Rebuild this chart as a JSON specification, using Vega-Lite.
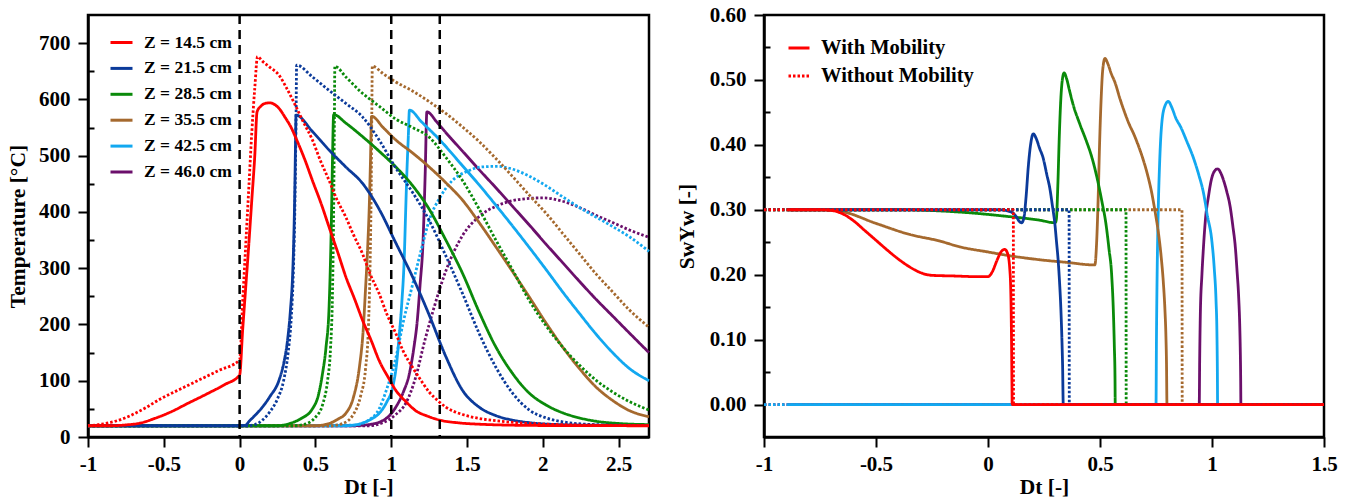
{
  "$schema": "https://vega.github.io/schema/vega-lite/v6.json",
  "background": "white",
  "padding": {"left": 6, "top": 2, "right": 5, "bottom": 5},
  "bounds": "flush",
  "spacing": 115,
  "config": {
    "font": "Liberation Serif",
    "view": {"stroke": "black", "strokeWidth": 2.5},
    "axis": {"domainColor": "black", "domainWidth": 2.5, "tickColor": "black", "tickWidth": 2, "labelFont": "Liberation Serif", "labelFontWeight": "bold", "labelFontSize": 21, "labelColor": "black", "titleFont": "Liberation Serif", "titleFontWeight": "bold", "titleFontSize": 21.5, "titleColor": "black", "grid": false}
  },
  "datasets": {
    "vlines": [{"Dt": 0}, {"Dt": 1}, {"Dt": 1.32}],
    "temp": [
      {"Z":"46.0","mob":"Without","Dt":-1,"val":20},{"Z":"46.0","mob":"Without","Dt":0.85,"val":20},{"Z":"46.0","mob":"Without","Dt":0.95,"val":26},{"Z":"46.0","mob":"Without","Dt":1.03,"val":40},{"Z":"46.0","mob":"Without","Dt":1.1,"val":62},{"Z":"46.0","mob":"Without","Dt":1.16,"val":105},{"Z":"46.0","mob":"Without","Dt":1.22,"val":170},{"Z":"46.0","mob":"Without","Dt":1.28,"val":228},{"Z":"46.0","mob":"Without","Dt":1.36,"val":295},{"Z":"46.0","mob":"Without","Dt":1.47,"val":358},{"Z":"46.0","mob":"Without","Dt":1.58,"val":392},{"Z":"46.0","mob":"Without","Dt":1.69,"val":410},{"Z":"46.0","mob":"Without","Dt":1.8,"val":420},{"Z":"46.0","mob":"Without","Dt":1.91,"val":424},{"Z":"46.0","mob":"Without","Dt":2.0,"val":425},{"Z":"46.0","mob":"Without","Dt":2.13,"val":419},{"Z":"46.0","mob":"Without","Dt":2.24,"val":408},{"Z":"46.0","mob":"Without","Dt":2.35,"val":394},{"Z":"46.0","mob":"Without","Dt":2.47,"val":380},{"Z":"46.0","mob":"Without","Dt":2.57,"val":368},{"Z":"46.0","mob":"Without","Dt":2.7,"val":355},
      {"Z":"46.0","mob":"With","Dt":-1,"val":20},{"Z":"46.0","mob":"With","Dt":0.75,"val":20},{"Z":"46.0","mob":"With","Dt":0.85,"val":22},{"Z":"46.0","mob":"With","Dt":0.95,"val":30},{"Z":"46.0","mob":"With","Dt":1.03,"val":53},{"Z":"46.0","mob":"With","Dt":1.08,"val":80},{"Z":"46.0","mob":"With","Dt":1.12,"val":113},{"Z":"46.0","mob":"With","Dt":1.15,"val":160},{"Z":"46.0","mob":"With","Dt":1.17,"val":202},{"Z":"46.0","mob":"With","Dt":1.19,"val":270},{"Z":"46.0","mob":"With","Dt":1.21,"val":350},{"Z":"46.0","mob":"With","Dt":1.224,"val":469},{"Z":"46.0","mob":"With","Dt":1.235,"val":578},{"Z":"46.0","mob":"With","Dt":1.3,"val":560},{"Z":"46.0","mob":"With","Dt":1.36,"val":541},{"Z":"46.0","mob":"With","Dt":1.47,"val":508},{"Z":"46.0","mob":"With","Dt":1.58,"val":475},{"Z":"46.0","mob":"With","Dt":1.69,"val":443},{"Z":"46.0","mob":"With","Dt":1.8,"val":410},{"Z":"46.0","mob":"With","Dt":1.91,"val":377},{"Z":"46.0","mob":"With","Dt":2.02,"val":343},{"Z":"46.0","mob":"With","Dt":2.13,"val":310},{"Z":"46.0","mob":"With","Dt":2.24,"val":277},{"Z":"46.0","mob":"With","Dt":2.35,"val":245},{"Z":"46.0","mob":"With","Dt":2.46,"val":215},{"Z":"46.0","mob":"With","Dt":2.57,"val":185},{"Z":"46.0","mob":"With","Dt":2.7,"val":150},
      {"Z":"42.5","mob":"Without","Dt":-1,"val":20},{"Z":"42.5","mob":"Without","Dt":0.75,"val":21},{"Z":"42.5","mob":"Without","Dt":0.85,"val":30},{"Z":"42.5","mob":"Without","Dt":0.92,"val":50},{"Z":"42.5","mob":"Without","Dt":0.97,"val":85},{"Z":"42.5","mob":"Without","Dt":1.03,"val":140},{"Z":"42.5","mob":"Without","Dt":1.08,"val":205},{"Z":"42.5","mob":"Without","Dt":1.14,"val":270},{"Z":"42.5","mob":"Without","Dt":1.2,"val":335},{"Z":"42.5","mob":"Without","Dt":1.25,"val":385},{"Z":"42.5","mob":"Without","Dt":1.32,"val":425},{"Z":"42.5","mob":"Without","Dt":1.4,"val":455},{"Z":"42.5","mob":"Without","Dt":1.5,"val":472},{"Z":"42.5","mob":"Without","Dt":1.6,"val":480},{"Z":"42.5","mob":"Without","Dt":1.7,"val":481},{"Z":"42.5","mob":"Without","Dt":1.8,"val":476},{"Z":"42.5","mob":"Without","Dt":1.9,"val":465},{"Z":"42.5","mob":"Without","Dt":2.0,"val":450},{"Z":"42.5","mob":"Without","Dt":2.13,"val":427},{"Z":"42.5","mob":"Without","Dt":2.24,"val":408},{"Z":"42.5","mob":"Without","Dt":2.35,"val":391},{"Z":"42.5","mob":"Without","Dt":2.46,"val":374},{"Z":"42.5","mob":"Without","Dt":2.57,"val":356},{"Z":"42.5","mob":"Without","Dt":2.7,"val":330},
      {"Z":"42.5","mob":"With","Dt":-1,"val":20},{"Z":"42.5","mob":"With","Dt":0.7,"val":20},{"Z":"42.5","mob":"With","Dt":0.8,"val":24},{"Z":"42.5","mob":"With","Dt":0.87,"val":32},{"Z":"42.5","mob":"With","Dt":0.92,"val":42},{"Z":"42.5","mob":"With","Dt":0.97,"val":62},{"Z":"42.5","mob":"With","Dt":1.01,"val":89},{"Z":"42.5","mob":"With","Dt":1.035,"val":130},{"Z":"42.5","mob":"With","Dt":1.05,"val":172},{"Z":"42.5","mob":"With","Dt":1.07,"val":240},{"Z":"42.5","mob":"With","Dt":1.086,"val":320},{"Z":"42.5","mob":"With","Dt":1.095,"val":400},{"Z":"42.5","mob":"With","Dt":1.103,"val":469},{"Z":"42.5","mob":"With","Dt":1.112,"val":530},{"Z":"42.5","mob":"With","Dt":1.12,"val":581},{"Z":"42.5","mob":"With","Dt":1.2,"val":560},{"Z":"42.5","mob":"With","Dt":1.32,"val":528},{"Z":"42.5","mob":"With","Dt":1.47,"val":482},{"Z":"42.5","mob":"With","Dt":1.58,"val":448},{"Z":"42.5","mob":"With","Dt":1.69,"val":412},{"Z":"42.5","mob":"With","Dt":1.8,"val":375},{"Z":"42.5","mob":"With","Dt":1.91,"val":337},{"Z":"42.5","mob":"With","Dt":2.02,"val":298},{"Z":"42.5","mob":"With","Dt":2.13,"val":258},{"Z":"42.5","mob":"With","Dt":2.24,"val":220},{"Z":"42.5","mob":"With","Dt":2.35,"val":183},{"Z":"42.5","mob":"With","Dt":2.46,"val":150},{"Z":"42.5","mob":"With","Dt":2.57,"val":122},{"Z":"42.5","mob":"With","Dt":2.7,"val":100},
      {"Z":"35.5","mob":"Without","Dt":-1,"val":20},{"Z":"35.5","mob":"Without","Dt":0.6,"val":20},{"Z":"35.5","mob":"Without","Dt":0.68,"val":24},{"Z":"35.5","mob":"Without","Dt":0.75,"val":40},{"Z":"35.5","mob":"Without","Dt":0.8,"val":75},{"Z":"35.5","mob":"Without","Dt":0.83,"val":120},{"Z":"35.5","mob":"Without","Dt":0.85,"val":200},{"Z":"35.5","mob":"Without","Dt":0.86,"val":300},{"Z":"35.5","mob":"Without","Dt":0.868,"val":450},{"Z":"35.5","mob":"Without","Dt":0.872,"val":580},{"Z":"35.5","mob":"Without","Dt":0.875,"val":659},{"Z":"35.5","mob":"Without","Dt":0.95,"val":645},{"Z":"35.5","mob":"Without","Dt":1.03,"val":631},{"Z":"35.5","mob":"Without","Dt":1.14,"val":615},{"Z":"35.5","mob":"Without","Dt":1.25,"val":596},{"Z":"35.5","mob":"Without","Dt":1.36,"val":575},{"Z":"35.5","mob":"Without","Dt":1.47,"val":551},{"Z":"35.5","mob":"Without","Dt":1.58,"val":525},{"Z":"35.5","mob":"Without","Dt":1.69,"val":495},{"Z":"35.5","mob":"Without","Dt":1.8,"val":463},{"Z":"35.5","mob":"Without","Dt":1.91,"val":430},{"Z":"35.5","mob":"Without","Dt":2.02,"val":398},{"Z":"35.5","mob":"Without","Dt":2.13,"val":362},{"Z":"35.5","mob":"Without","Dt":2.24,"val":326},{"Z":"35.5","mob":"Without","Dt":2.35,"val":290},{"Z":"35.5","mob":"Without","Dt":2.46,"val":258},{"Z":"35.5","mob":"Without","Dt":2.57,"val":226},{"Z":"35.5","mob":"Without","Dt":2.7,"val":195},
      {"Z":"35.5","mob":"With","Dt":-1,"val":20},{"Z":"35.5","mob":"With","Dt":0.5,"val":20},{"Z":"35.5","mob":"With","Dt":0.59,"val":24},{"Z":"35.5","mob":"With","Dt":0.65,"val":32},{"Z":"35.5","mob":"With","Dt":0.7,"val":42},{"Z":"35.5","mob":"With","Dt":0.75,"val":70},{"Z":"35.5","mob":"With","Dt":0.79,"val":124},{"Z":"35.5","mob":"With","Dt":0.815,"val":190},{"Z":"35.5","mob":"With","Dt":0.83,"val":261},{"Z":"35.5","mob":"With","Dt":0.845,"val":340},{"Z":"35.5","mob":"With","Dt":0.855,"val":409},{"Z":"35.5","mob":"With","Dt":0.863,"val":490},{"Z":"35.5","mob":"With","Dt":0.87,"val":570},{"Z":"35.5","mob":"With","Dt":0.95,"val":549},{"Z":"35.5","mob":"With","Dt":1.03,"val":528},{"Z":"35.5","mob":"With","Dt":1.14,"val":505},{"Z":"35.5","mob":"With","Dt":1.25,"val":480},{"Z":"35.5","mob":"With","Dt":1.36,"val":452},{"Z":"35.5","mob":"With","Dt":1.47,"val":421},{"Z":"35.5","mob":"With","Dt":1.58,"val":381},{"Z":"35.5","mob":"With","Dt":1.69,"val":338},{"Z":"35.5","mob":"With","Dt":1.8,"val":294},{"Z":"35.5","mob":"With","Dt":1.91,"val":249},{"Z":"35.5","mob":"With","Dt":2.02,"val":203},{"Z":"35.5","mob":"With","Dt":2.13,"val":160},{"Z":"35.5","mob":"With","Dt":2.24,"val":122},{"Z":"35.5","mob":"With","Dt":2.35,"val":89},{"Z":"35.5","mob":"With","Dt":2.46,"val":65},{"Z":"35.5","mob":"With","Dt":2.57,"val":47},{"Z":"35.5","mob":"With","Dt":2.7,"val":36},
      {"Z":"28.5","mob":"Without","Dt":-1,"val":20},{"Z":"28.5","mob":"Without","Dt":0.35,"val":20},{"Z":"28.5","mob":"Without","Dt":0.42,"val":22},{"Z":"28.5","mob":"Without","Dt":0.5,"val":35},{"Z":"28.5","mob":"Without","Dt":0.55,"val":60},{"Z":"28.5","mob":"Without","Dt":0.58,"val":100},{"Z":"28.5","mob":"Without","Dt":0.6,"val":160},{"Z":"28.5","mob":"Without","Dt":0.612,"val":250},{"Z":"28.5","mob":"Without","Dt":0.62,"val":400},{"Z":"28.5","mob":"Without","Dt":0.625,"val":560},{"Z":"28.5","mob":"Without","Dt":0.628,"val":659},{"Z":"28.5","mob":"Without","Dt":0.7,"val":640},{"Z":"28.5","mob":"Without","Dt":0.81,"val":611},{"Z":"28.5","mob":"Without","Dt":0.92,"val":588},{"Z":"28.5","mob":"Without","Dt":1.03,"val":565},{"Z":"28.5","mob":"Without","Dt":1.14,"val":550},{"Z":"28.5","mob":"Without","Dt":1.25,"val":533},{"Z":"28.5","mob":"Without","Dt":1.36,"val":497},{"Z":"28.5","mob":"Without","Dt":1.47,"val":456},{"Z":"28.5","mob":"Without","Dt":1.58,"val":405},{"Z":"28.5","mob":"Without","Dt":1.69,"val":350},{"Z":"28.5","mob":"Without","Dt":1.8,"val":297},{"Z":"28.5","mob":"Without","Dt":1.91,"val":243},{"Z":"28.5","mob":"Without","Dt":2.02,"val":198},{"Z":"28.5","mob":"Without","Dt":2.13,"val":160},{"Z":"28.5","mob":"Without","Dt":2.24,"val":128},{"Z":"28.5","mob":"Without","Dt":2.35,"val":101},{"Z":"28.5","mob":"Without","Dt":2.46,"val":80},{"Z":"28.5","mob":"Without","Dt":2.57,"val":63},{"Z":"28.5","mob":"Without","Dt":2.7,"val":48},
      {"Z":"28.5","mob":"With","Dt":-1,"val":20},{"Z":"28.5","mob":"With","Dt":0.25,"val":20},{"Z":"28.5","mob":"With","Dt":0.33,"val":24},{"Z":"28.5","mob":"With","Dt":0.4,"val":32},{"Z":"28.5","mob":"With","Dt":0.48,"val":50},{"Z":"28.5","mob":"With","Dt":0.52,"val":75},{"Z":"28.5","mob":"With","Dt":0.545,"val":110},{"Z":"28.5","mob":"With","Dt":0.57,"val":160},{"Z":"28.5","mob":"With","Dt":0.59,"val":231},{"Z":"28.5","mob":"With","Dt":0.6,"val":320},{"Z":"28.5","mob":"With","Dt":0.607,"val":409},{"Z":"28.5","mob":"With","Dt":0.613,"val":500},{"Z":"28.5","mob":"With","Dt":0.62,"val":573},{"Z":"28.5","mob":"With","Dt":0.7,"val":558},{"Z":"28.5","mob":"With","Dt":0.81,"val":534},{"Z":"28.5","mob":"With","Dt":0.92,"val":508},{"Z":"28.5","mob":"With","Dt":1.03,"val":480},{"Z":"28.5","mob":"With","Dt":1.14,"val":447},{"Z":"28.5","mob":"With","Dt":1.25,"val":405},{"Z":"28.5","mob":"With","Dt":1.36,"val":350},{"Z":"28.5","mob":"With","Dt":1.47,"val":291},{"Z":"28.5","mob":"With","Dt":1.58,"val":222},{"Z":"28.5","mob":"With","Dt":1.69,"val":160},{"Z":"28.5","mob":"With","Dt":1.8,"val":113},{"Z":"28.5","mob":"With","Dt":1.91,"val":78},{"Z":"28.5","mob":"With","Dt":2.02,"val":57},{"Z":"28.5","mob":"With","Dt":2.13,"val":43},{"Z":"28.5","mob":"With","Dt":2.24,"val":34},{"Z":"28.5","mob":"With","Dt":2.35,"val":28},{"Z":"28.5","mob":"With","Dt":2.5,"val":24},{"Z":"28.5","mob":"With","Dt":2.7,"val":22},
      {"Z":"21.5","mob":"Without","Dt":-1,"val":20},{"Z":"21.5","mob":"Without","Dt":0.05,"val":20},{"Z":"21.5","mob":"Without","Dt":0.1,"val":22},{"Z":"21.5","mob":"Without","Dt":0.15,"val":30},{"Z":"21.5","mob":"Without","Dt":0.2,"val":45},{"Z":"21.5","mob":"Without","Dt":0.25,"val":68},{"Z":"21.5","mob":"Without","Dt":0.29,"val":100},{"Z":"21.5","mob":"Without","Dt":0.32,"val":150},{"Z":"21.5","mob":"Without","Dt":0.34,"val":210},{"Z":"21.5","mob":"Without","Dt":0.355,"val":300},{"Z":"21.5","mob":"Without","Dt":0.365,"val":420},{"Z":"21.5","mob":"Without","Dt":0.372,"val":560},{"Z":"21.5","mob":"Without","Dt":0.376,"val":661},{"Z":"21.5","mob":"Without","Dt":0.48,"val":640},{"Z":"21.5","mob":"Without","Dt":0.59,"val":616},{"Z":"21.5","mob":"Without","Dt":0.7,"val":593},{"Z":"21.5","mob":"Without","Dt":0.81,"val":569},{"Z":"21.5","mob":"Without","Dt":0.92,"val":528},{"Z":"21.5","mob":"Without","Dt":1.03,"val":478},{"Z":"21.5","mob":"Without","Dt":1.14,"val":435},{"Z":"21.5","mob":"Without","Dt":1.25,"val":385},{"Z":"21.5","mob":"Without","Dt":1.36,"val":322},{"Z":"21.5","mob":"Without","Dt":1.47,"val":255},{"Z":"21.5","mob":"Without","Dt":1.58,"val":184},{"Z":"21.5","mob":"Without","Dt":1.69,"val":124},{"Z":"21.5","mob":"Without","Dt":1.8,"val":78},{"Z":"21.5","mob":"Without","Dt":1.91,"val":48},{"Z":"21.5","mob":"Without","Dt":2.02,"val":34},{"Z":"21.5","mob":"Without","Dt":2.13,"val":27},{"Z":"21.5","mob":"Without","Dt":2.35,"val":22},{"Z":"21.5","mob":"Without","Dt":2.7,"val":20.3},
      {"Z":"21.5","mob":"With","Dt":-1,"val":20},{"Z":"21.5","mob":"With","Dt":0,"val":20},{"Z":"21.5","mob":"With","Dt":0.04,"val":21},{"Z":"21.5","mob":"With","Dt":0.063,"val":28},{"Z":"21.5","mob":"With","Dt":0.1,"val":38},{"Z":"21.5","mob":"With","Dt":0.15,"val":53},{"Z":"21.5","mob":"With","Dt":0.2,"val":72},{"Z":"21.5","mob":"With","Dt":0.26,"val":101},{"Z":"21.5","mob":"With","Dt":0.29,"val":130},{"Z":"21.5","mob":"With","Dt":0.316,"val":172},{"Z":"21.5","mob":"With","Dt":0.335,"val":225},{"Z":"21.5","mob":"With","Dt":0.35,"val":291},{"Z":"21.5","mob":"With","Dt":0.358,"val":360},{"Z":"21.5","mob":"With","Dt":0.364,"val":439},{"Z":"21.5","mob":"With","Dt":0.368,"val":510},{"Z":"21.5","mob":"With","Dt":0.372,"val":572},{"Z":"21.5","mob":"With","Dt":0.48,"val":543},{"Z":"21.5","mob":"With","Dt":0.59,"val":510},{"Z":"21.5","mob":"With","Dt":0.7,"val":480},{"Z":"21.5","mob":"With","Dt":0.81,"val":451},{"Z":"21.5","mob":"With","Dt":0.92,"val":405},{"Z":"21.5","mob":"With","Dt":1.03,"val":345},{"Z":"21.5","mob":"With","Dt":1.14,"val":285},{"Z":"21.5","mob":"With","Dt":1.25,"val":217},{"Z":"21.5","mob":"With","Dt":1.36,"val":143},{"Z":"21.5","mob":"With","Dt":1.47,"val":83},{"Z":"21.5","mob":"With","Dt":1.58,"val":53},{"Z":"21.5","mob":"With","Dt":1.69,"val":38},{"Z":"21.5","mob":"With","Dt":1.8,"val":30},{"Z":"21.5","mob":"With","Dt":1.91,"val":25.5},{"Z":"21.5","mob":"With","Dt":2.02,"val":23},{"Z":"21.5","mob":"With","Dt":2.3,"val":21},{"Z":"21.5","mob":"With","Dt":2.7,"val":20.3},
      {"Z":"14.5","mob":"Without","Dt":-1,"val":20},{"Z":"14.5","mob":"Without","Dt":-0.93,"val":22},{"Z":"14.5","mob":"Without","Dt":-0.82,"val":28},{"Z":"14.5","mob":"Without","Dt":-0.72,"val":38},{"Z":"14.5","mob":"Without","Dt":-0.62,"val":52},{"Z":"14.5","mob":"Without","Dt":-0.52,"val":68},{"Z":"14.5","mob":"Without","Dt":-0.4,"val":84},{"Z":"14.5","mob":"Without","Dt":-0.27,"val":101},{"Z":"14.5","mob":"Without","Dt":-0.14,"val":118},{"Z":"14.5","mob":"Without","Dt":0,"val":137},{"Z":"14.5","mob":"Without","Dt":0.02,"val":240},{"Z":"14.5","mob":"Without","Dt":0.04,"val":340},{"Z":"14.5","mob":"Without","Dt":0.06,"val":440},{"Z":"14.5","mob":"Without","Dt":0.08,"val":540},{"Z":"14.5","mob":"Without","Dt":0.1,"val":620},{"Z":"14.5","mob":"Without","Dt":0.118,"val":676},{"Z":"14.5","mob":"Without","Dt":0.15,"val":668},{"Z":"14.5","mob":"Without","Dt":0.2,"val":657},{"Z":"14.5","mob":"Without","Dt":0.26,"val":643},{"Z":"14.5","mob":"Without","Dt":0.31,"val":620},{"Z":"14.5","mob":"Without","Dt":0.37,"val":588},{"Z":"14.5","mob":"Without","Dt":0.42,"val":560},{"Z":"14.5","mob":"Without","Dt":0.48,"val":528},{"Z":"14.5","mob":"Without","Dt":0.53,"val":493},{"Z":"14.5","mob":"Without","Dt":0.59,"val":456},{"Z":"14.5","mob":"Without","Dt":0.64,"val":423},{"Z":"14.5","mob":"Without","Dt":0.7,"val":391},{"Z":"14.5","mob":"Without","Dt":0.75,"val":360},{"Z":"14.5","mob":"Without","Dt":0.81,"val":326},{"Z":"14.5","mob":"Without","Dt":0.86,"val":290},{"Z":"14.5","mob":"Without","Dt":0.92,"val":255},{"Z":"14.5","mob":"Without","Dt":0.97,"val":219},{"Z":"14.5","mob":"Without","Dt":1.03,"val":184},{"Z":"14.5","mob":"Without","Dt":1.08,"val":152},{"Z":"14.5","mob":"Without","Dt":1.14,"val":124},{"Z":"14.5","mob":"Without","Dt":1.2,"val":99},{"Z":"14.5","mob":"Without","Dt":1.25,"val":80},{"Z":"14.5","mob":"Without","Dt":1.31,"val":64},{"Z":"14.5","mob":"Without","Dt":1.36,"val":53},{"Z":"14.5","mob":"Without","Dt":1.47,"val":40},{"Z":"14.5","mob":"Without","Dt":1.58,"val":33},{"Z":"14.5","mob":"Without","Dt":1.69,"val":29},{"Z":"14.5","mob":"Without","Dt":1.85,"val":25},{"Z":"14.5","mob":"Without","Dt":2.0,"val":23},{"Z":"14.5","mob":"Without","Dt":2.3,"val":21},{"Z":"14.5","mob":"Without","Dt":2.7,"val":20.3},
      {"Z":"14.5","mob":"With","Dt":-1,"val":20},{"Z":"14.5","mob":"With","Dt":-0.85,"val":20},{"Z":"14.5","mob":"With","Dt":-0.75,"val":21.5},{"Z":"14.5","mob":"With","Dt":-0.65,"val":25},{"Z":"14.5","mob":"With","Dt":-0.56,"val":33},{"Z":"14.5","mob":"With","Dt":-0.45,"val":45},{"Z":"14.5","mob":"With","Dt":-0.34,"val":60},{"Z":"14.5","mob":"With","Dt":-0.22,"val":76},{"Z":"14.5","mob":"With","Dt":-0.1,"val":93},{"Z":"14.5","mob":"With","Dt":0,"val":110},{"Z":"14.5","mob":"With","Dt":0.02,"val":190},{"Z":"14.5","mob":"With","Dt":0.04,"val":265},{"Z":"14.5","mob":"With","Dt":0.06,"val":340},{"Z":"14.5","mob":"With","Dt":0.08,"val":420},{"Z":"14.5","mob":"With","Dt":0.1,"val":500},{"Z":"14.5","mob":"With","Dt":0.115,"val":578},{"Z":"14.5","mob":"With","Dt":0.14,"val":588},{"Z":"14.5","mob":"With","Dt":0.17,"val":593},{"Z":"14.5","mob":"With","Dt":0.2,"val":594},{"Z":"14.5","mob":"With","Dt":0.23,"val":591},{"Z":"14.5","mob":"With","Dt":0.26,"val":584},{"Z":"14.5","mob":"With","Dt":0.3,"val":568},{"Z":"14.5","mob":"With","Dt":0.34,"val":550},{"Z":"14.5","mob":"With","Dt":0.37,"val":532},{"Z":"14.5","mob":"With","Dt":0.43,"val":493},{"Z":"14.5","mob":"With","Dt":0.48,"val":456},{"Z":"14.5","mob":"With","Dt":0.54,"val":413},{"Z":"14.5","mob":"With","Dt":0.59,"val":373},{"Z":"14.5","mob":"With","Dt":0.65,"val":326},{"Z":"14.5","mob":"With","Dt":0.7,"val":285},{"Z":"14.5","mob":"With","Dt":0.76,"val":244},{"Z":"14.5","mob":"With","Dt":0.81,"val":208},{"Z":"14.5","mob":"With","Dt":0.87,"val":170},{"Z":"14.5","mob":"With","Dt":0.92,"val":136},{"Z":"14.5","mob":"With","Dt":0.98,"val":106},{"Z":"14.5","mob":"With","Dt":1.03,"val":83},{"Z":"14.5","mob":"With","Dt":1.1,"val":62},{"Z":"14.5","mob":"With","Dt":1.16,"val":47},{"Z":"14.5","mob":"With","Dt":1.24,"val":37},{"Z":"14.5","mob":"With","Dt":1.32,"val":30},{"Z":"14.5","mob":"With","Dt":1.45,"val":25},{"Z":"14.5","mob":"With","Dt":1.6,"val":22.5},{"Z":"14.5","mob":"With","Dt":1.8,"val":21},{"Z":"14.5","mob":"With","Dt":2.1,"val":20.3},{"Z":"14.5","mob":"With","Dt":2.7,"val":20}
    ],
    "sw": [
      {"Z":"46.0","mob":"Without","Dt":-1,"val":0},{"Z":"46.0","mob":"Without","Dt":1.5,"val":0},
      {"Z":"46.0","mob":"With","Dt":-0.89,"val":0},{"Z":"46.0","mob":"With","Dt":0.943,"val":0},{"Z":"46.0","mob":"With","Dt":0.945,"val":0.07},{"Z":"46.0","mob":"With","Dt":0.948,"val":0.14},{"Z":"46.0","mob":"With","Dt":0.955,"val":0.2},{"Z":"46.0","mob":"With","Dt":0.962,"val":0.243},{"Z":"46.0","mob":"With","Dt":0.972,"val":0.29},{"Z":"46.0","mob":"With","Dt":0.984,"val":0.32},{"Z":"46.0","mob":"With","Dt":0.995,"val":0.343},{"Z":"46.0","mob":"With","Dt":1.007,"val":0.357},{"Z":"46.0","mob":"With","Dt":1.025,"val":0.363},{"Z":"46.0","mob":"With","Dt":1.04,"val":0.356},{"Z":"46.0","mob":"With","Dt":1.051,"val":0.346},{"Z":"46.0","mob":"With","Dt":1.066,"val":0.328},{"Z":"46.0","mob":"With","Dt":1.081,"val":0.305},{"Z":"46.0","mob":"With","Dt":1.093,"val":0.275},{"Z":"46.0","mob":"With","Dt":1.104,"val":0.243},{"Z":"46.0","mob":"With","Dt":1.112,"val":0.205},{"Z":"46.0","mob":"With","Dt":1.119,"val":0.166},{"Z":"46.0","mob":"With","Dt":1.124,"val":0.12},{"Z":"46.0","mob":"With","Dt":1.126,"val":0.089},{"Z":"46.0","mob":"With","Dt":1.128,"val":0.04},{"Z":"46.0","mob":"With","Dt":1.129,"val":0},{"Z":"46.0","mob":"With","Dt":1.5,"val":0},
      {"Z":"42.5","mob":"Without","Dt":-1,"val":0},{"Z":"42.5","mob":"Without","Dt":1.5,"val":0},
      {"Z":"42.5","mob":"With","Dt":-0.89,"val":0},{"Z":"42.5","mob":"With","Dt":0.75,"val":0},{"Z":"42.5","mob":"With","Dt":0.752,"val":0.1},{"Z":"42.5","mob":"With","Dt":0.755,"val":0.2},{"Z":"42.5","mob":"With","Dt":0.76,"val":0.3},{"Z":"42.5","mob":"With","Dt":0.766,"val":0.37},{"Z":"42.5","mob":"With","Dt":0.776,"val":0.434},{"Z":"42.5","mob":"With","Dt":0.79,"val":0.46},{"Z":"42.5","mob":"With","Dt":0.805,"val":0.467},{"Z":"42.5","mob":"With","Dt":0.82,"val":0.458},{"Z":"42.5","mob":"With","Dt":0.84,"val":0.44},{"Z":"42.5","mob":"With","Dt":0.858,"val":0.429},{"Z":"42.5","mob":"With","Dt":0.888,"val":0.405},{"Z":"42.5","mob":"With","Dt":0.917,"val":0.38},{"Z":"42.5","mob":"With","Dt":0.94,"val":0.355},{"Z":"42.5","mob":"With","Dt":0.962,"val":0.326},{"Z":"42.5","mob":"With","Dt":0.98,"val":0.29},{"Z":"42.5","mob":"With","Dt":0.999,"val":0.253},{"Z":"42.5","mob":"With","Dt":1.01,"val":0.21},{"Z":"42.5","mob":"With","Dt":1.018,"val":0.16},{"Z":"42.5","mob":"With","Dt":1.022,"val":0.11},{"Z":"42.5","mob":"With","Dt":1.024,"val":0.05},{"Z":"42.5","mob":"With","Dt":1.025,"val":0},{"Z":"42.5","mob":"With","Dt":1.5,"val":0},
      {"Z":"35.5","mob":"Without","Dt":-1,"val":0.3},{"Z":"35.5","mob":"Without","Dt":0.866,"val":0.3},{"Z":"35.5","mob":"Without","Dt":0.867,"val":0},{"Z":"35.5","mob":"Without","Dt":1.5,"val":0},
      {"Z":"35.5","mob":"With","Dt":-0.89,"val":0.3},{"Z":"35.5","mob":"With","Dt":-0.75,"val":0.3},{"Z":"35.5","mob":"With","Dt":-0.65,"val":0.297},{"Z":"35.5","mob":"With","Dt":-0.5,"val":0.279},{"Z":"35.5","mob":"With","Dt":-0.35,"val":0.262},{"Z":"35.5","mob":"With","Dt":-0.217,"val":0.252},{"Z":"35.5","mob":"With","Dt":-0.127,"val":0.243},{"Z":"35.5","mob":"With","Dt":0,"val":0.235},{"Z":"35.5","mob":"With","Dt":0.1,"val":0.229},{"Z":"35.5","mob":"With","Dt":0.231,"val":0.223},{"Z":"35.5","mob":"With","Dt":0.35,"val":0.219},{"Z":"35.5","mob":"With","Dt":0.477,"val":0.215},{"Z":"35.5","mob":"With","Dt":0.485,"val":0.25},{"Z":"35.5","mob":"With","Dt":0.492,"val":0.32},{"Z":"35.5","mob":"With","Dt":0.498,"val":0.4},{"Z":"35.5","mob":"With","Dt":0.505,"val":0.47},{"Z":"35.5","mob":"With","Dt":0.512,"val":0.515},{"Z":"35.5","mob":"With","Dt":0.522,"val":0.533},{"Z":"35.5","mob":"With","Dt":0.535,"val":0.525},{"Z":"35.5","mob":"With","Dt":0.55,"val":0.51},{"Z":"35.5","mob":"With","Dt":0.567,"val":0.496},{"Z":"35.5","mob":"With","Dt":0.59,"val":0.47},{"Z":"35.5","mob":"With","Dt":0.611,"val":0.449},{"Z":"35.5","mob":"With","Dt":0.63,"val":0.432},{"Z":"35.5","mob":"With","Dt":0.649,"val":0.418},{"Z":"35.5","mob":"With","Dt":0.67,"val":0.4},{"Z":"35.5","mob":"With","Dt":0.693,"val":0.377},{"Z":"35.5","mob":"With","Dt":0.713,"val":0.353},{"Z":"35.5","mob":"With","Dt":0.731,"val":0.326},{"Z":"35.5","mob":"With","Dt":0.746,"val":0.297},{"Z":"35.5","mob":"With","Dt":0.761,"val":0.264},{"Z":"35.5","mob":"With","Dt":0.773,"val":0.228},{"Z":"35.5","mob":"With","Dt":0.783,"val":0.187},{"Z":"35.5","mob":"With","Dt":0.79,"val":0.145},{"Z":"35.5","mob":"With","Dt":0.794,"val":0.109},{"Z":"35.5","mob":"With","Dt":0.797,"val":0.06},{"Z":"35.5","mob":"With","Dt":0.799,"val":0},{"Z":"35.5","mob":"With","Dt":1.5,"val":0},
      {"Z":"28.5","mob":"Without","Dt":-1,"val":0.3},{"Z":"28.5","mob":"Without","Dt":0.616,"val":0.3},{"Z":"28.5","mob":"Without","Dt":0.617,"val":0},{"Z":"28.5","mob":"Without","Dt":1.5,"val":0},
      {"Z":"28.5","mob":"With","Dt":-0.89,"val":0.3},{"Z":"28.5","mob":"With","Dt":-0.4,"val":0.3},{"Z":"28.5","mob":"With","Dt":-0.2,"val":0.298},{"Z":"28.5","mob":"With","Dt":-0.07,"val":0.295},{"Z":"28.5","mob":"With","Dt":0.08,"val":0.29},{"Z":"28.5","mob":"With","Dt":0.23,"val":0.284},{"Z":"28.5","mob":"With","Dt":0.3,"val":0.28},{"Z":"28.5","mob":"With","Dt":0.305,"val":0.285},{"Z":"28.5","mob":"With","Dt":0.312,"val":0.34},{"Z":"28.5","mob":"With","Dt":0.318,"val":0.41},{"Z":"28.5","mob":"With","Dt":0.325,"val":0.47},{"Z":"28.5","mob":"With","Dt":0.333,"val":0.503},{"Z":"28.5","mob":"With","Dt":0.34,"val":0.511},{"Z":"28.5","mob":"With","Dt":0.35,"val":0.503},{"Z":"28.5","mob":"With","Dt":0.365,"val":0.482},{"Z":"28.5","mob":"With","Dt":0.38,"val":0.462},{"Z":"28.5","mob":"With","Dt":0.41,"val":0.432},{"Z":"28.5","mob":"With","Dt":0.44,"val":0.405},{"Z":"28.5","mob":"With","Dt":0.46,"val":0.385},{"Z":"28.5","mob":"With","Dt":0.485,"val":0.352},{"Z":"28.5","mob":"With","Dt":0.51,"val":0.31},{"Z":"28.5","mob":"With","Dt":0.525,"val":0.282},{"Z":"28.5","mob":"With","Dt":0.54,"val":0.24},{"Z":"28.5","mob":"With","Dt":0.552,"val":0.2},{"Z":"28.5","mob":"With","Dt":0.56,"val":0.14},{"Z":"28.5","mob":"With","Dt":0.564,"val":0.09},{"Z":"28.5","mob":"With","Dt":0.567,"val":0.04},{"Z":"28.5","mob":"With","Dt":0.568,"val":0},{"Z":"28.5","mob":"With","Dt":1.5,"val":0},
      {"Z":"21.5","mob":"Without","Dt":-1,"val":0.3},{"Z":"21.5","mob":"Without","Dt":0.362,"val":0.3},{"Z":"21.5","mob":"Without","Dt":0.363,"val":0},{"Z":"21.5","mob":"Without","Dt":1.5,"val":0},
      {"Z":"21.5","mob":"With","Dt":-0.89,"val":0.3},{"Z":"21.5","mob":"With","Dt":0.05,"val":0.3},{"Z":"21.5","mob":"With","Dt":0.1,"val":0.297},{"Z":"21.5","mob":"With","Dt":0.125,"val":0.29},{"Z":"21.5","mob":"With","Dt":0.14,"val":0.282},{"Z":"21.5","mob":"With","Dt":0.15,"val":0.28},{"Z":"21.5","mob":"With","Dt":0.16,"val":0.287},{"Z":"21.5","mob":"With","Dt":0.17,"val":0.32},{"Z":"21.5","mob":"With","Dt":0.18,"val":0.367},{"Z":"21.5","mob":"With","Dt":0.19,"val":0.4},{"Z":"21.5","mob":"With","Dt":0.202,"val":0.417},{"Z":"21.5","mob":"With","Dt":0.215,"val":0.41},{"Z":"21.5","mob":"With","Dt":0.23,"val":0.395},{"Z":"21.5","mob":"With","Dt":0.246,"val":0.38},{"Z":"21.5","mob":"With","Dt":0.262,"val":0.355},{"Z":"21.5","mob":"With","Dt":0.276,"val":0.333},{"Z":"21.5","mob":"With","Dt":0.288,"val":0.305},{"Z":"21.5","mob":"With","Dt":0.298,"val":0.28},{"Z":"21.5","mob":"With","Dt":0.306,"val":0.25},{"Z":"21.5","mob":"With","Dt":0.313,"val":0.223},{"Z":"21.5","mob":"With","Dt":0.32,"val":0.185},{"Z":"21.5","mob":"With","Dt":0.325,"val":0.15},{"Z":"21.5","mob":"With","Dt":0.33,"val":0.1},{"Z":"21.5","mob":"With","Dt":0.333,"val":0.06},{"Z":"21.5","mob":"With","Dt":0.336,"val":0},{"Z":"21.5","mob":"With","Dt":1.5,"val":0},
      {"Z":"14.5","mob":"Without","Dt":-1,"val":0.3},{"Z":"14.5","mob":"Without","Dt":0.113,"val":0.3},{"Z":"14.5","mob":"Without","Dt":0.114,"val":0},{"Z":"14.5","mob":"Without","Dt":1.5,"val":0},
      {"Z":"14.5","mob":"With","Dt":-0.89,"val":0.3},{"Z":"14.5","mob":"With","Dt":-0.75,"val":0.3},{"Z":"14.5","mob":"With","Dt":-0.7,"val":0.299},{"Z":"14.5","mob":"With","Dt":-0.65,"val":0.294},{"Z":"14.5","mob":"With","Dt":-0.6,"val":0.283},{"Z":"14.5","mob":"With","Dt":-0.55,"val":0.268},{"Z":"14.5","mob":"With","Dt":-0.5,"val":0.253},{"Z":"14.5","mob":"With","Dt":-0.45,"val":0.238},{"Z":"14.5","mob":"With","Dt":-0.4,"val":0.224},{"Z":"14.5","mob":"With","Dt":-0.35,"val":0.212},{"Z":"14.5","mob":"With","Dt":-0.3,"val":0.203},{"Z":"14.5","mob":"With","Dt":-0.25,"val":0.199},{"Z":"14.5","mob":"With","Dt":-0.15,"val":0.198},{"Z":"14.5","mob":"With","Dt":-0.05,"val":0.197},{"Z":"14.5","mob":"With","Dt":0,"val":0.197},{"Z":"14.5","mob":"With","Dt":0.02,"val":0.205},{"Z":"14.5","mob":"With","Dt":0.04,"val":0.222},{"Z":"14.5","mob":"With","Dt":0.06,"val":0.236},{"Z":"14.5","mob":"With","Dt":0.075,"val":0.239},{"Z":"14.5","mob":"With","Dt":0.088,"val":0.232},{"Z":"14.5","mob":"With","Dt":0.097,"val":0.21},{"Z":"14.5","mob":"With","Dt":0.102,"val":0.17},{"Z":"14.5","mob":"With","Dt":0.105,"val":0.1},{"Z":"14.5","mob":"With","Dt":0.107,"val":0.03},{"Z":"14.5","mob":"With","Dt":0.108,"val":0},{"Z":"14.5","mob":"With","Dt":1.5,"val":0}
    ]
  },
  "hconcat": [
    {
      "width": 561,
      "height": 422,
      "layer": [
        {
          "data": {"name": "temp"},
          "mark": {"type": "line", "strokeWidth": 2.8, "interpolate": "monotone"},
          "encoding": {
            "x": {"field": "Dt", "type": "quantitative", "scale": {"domain": [-1, 2.7], "nice": false, "zero": false},
              "axis": {"title": "Dt [-]", "values": [-1, -0.5, 0, 0.5, 1, 1.5, 2, 2.5], "labelExpr": "datum.value + ''", "tickSize": 10, "labelPadding": 6, "titlePadding": 2, "labelFlush": false}},
            "y": {"field": "val", "type": "quantitative", "scale": {"domain": [0, 750], "nice": false, "zero": false},
              "axis": {"title": "Temperature [°C]", "values": [0, 50, 100, 150, 200, 250, 300, 350, 400, 450, 500, 550, 600, 650, 700], "labelExpr": "datum.value % 100 === 0 ? datum.value + '' : ''", "tickSize": {"condition": {"test": "datum.value % 100 !== 0", "value": -6}, "value": 10}, "labelPadding": 8, "titleX": -69.5, "titleBaseline": "middle"}},
            "color": {"field": "Z", "type": "nominal",
              "scale": {"domain": ["14.5", "21.5", "28.5", "35.5", "42.5", "46.0"], "range": ["#ff0000", "#0b3a9a", "#0a8a0a", "#a5692e", "#12a8f0", "#6b0f6b"]},
              "legend": {"orient": "none", "legendX": 21, "legendY": 15, "title": null, "padding": 0, "symbolType": "stroke", "symbolSize": 484, "symbolStrokeWidth": 3, "labelFont": "Liberation Serif", "labelFontWeight": "bold", "labelFontSize": 17.5, "labelColor": "black", "labelOffset": 10, "rowPadding": 4.9, "labelExpr": "'Z = ' + datum.label + ' cm'"}},
            "strokeDash": {"field": "mob", "type": "nominal", "scale": {"domain": ["With", "Without"], "range": [[1, 0], [2.5, 2]]}, "legend": null}
          }
        },
        {
          "data": {"name": "vlines"},
          "mark": {"type": "rule", "color": "black", "strokeWidth": 2.5, "strokeDash": [9, 6]},
          "encoding": {"x": {"field": "Dt", "type": "quantitative"}}
        }
      ]
    },
    {
      "width": 560,
      "height": 422,
      "data": {"name": "sw"},
      "mark": {"type": "line", "strokeWidth": 2.8, "interpolate": "monotone"},
      "encoding": {
        "x": {"field": "Dt", "type": "quantitative", "scale": {"domain": [-1, 1.5], "nice": false, "zero": false},
          "axis": {"title": "Dt [-]", "values": [-1, -0.5, 0, 0.5, 1, 1.5], "labelExpr": "datum.value + ''", "tickSize": 10, "labelPadding": 6, "titlePadding": 2, "labelFlush": false}},
        "y": {"field": "val", "type": "quantitative", "scale": {"domain": [-0.05, 0.6], "nice": false, "zero": false},
          "axis": {"title": "SwYw [-]", "values": [0, 0.05, 0.1, 0.15, 0.2, 0.25, 0.3, 0.35, 0.4, 0.45, 0.5, 0.55, 0.6], "labelExpr": "abs(datum.value * 10 - round(datum.value * 10)) < 0.001 ? format(datum.value, '.2f') : ''", "tickSize": {"condition": {"test": "abs(datum.value * 10 - round(datum.value * 10)) > 0.001", "value": -6}, "value": 10}, "labelPadding": 8, "titleX": -77, "titleBaseline": "middle"}},
        "color": {"field": "Z", "type": "nominal",
          "scale": {"domain": ["14.5", "21.5", "28.5", "35.5", "42.5", "46.0"], "range": ["#ff0000", "#0b3a9a", "#0a8a0a", "#a5692e", "#12a8f0", "#6b0f6b"]},
          "legend": null},
        "strokeDash": {"field": "mob", "type": "nominal", "scale": {"domain": ["With", "Without"], "range": [[1, 0], [2.5, 2]]},
          "legend": {"orient": "none", "legendX": 23, "legendY": 21, "title": null, "padding": 0, "symbolType": "stroke", "symbolSize": 441, "symbolStrokeWidth": 3, "symbolStrokeColor": "#ff0000", "labelFont": "Liberation Serif", "labelFontWeight": "bold", "labelFontSize": 20.5, "labelColor": "black", "labelOffset": 10, "rowPadding": 5, "labelExpr": "datum.label + ' Mobility'"}}
      }
    }
  ],
  "resolve": {"scale": {"color": "independent", "strokeDash": "independent"}, "legend": {"color": "independent", "strokeDash": "independent"}}
}
